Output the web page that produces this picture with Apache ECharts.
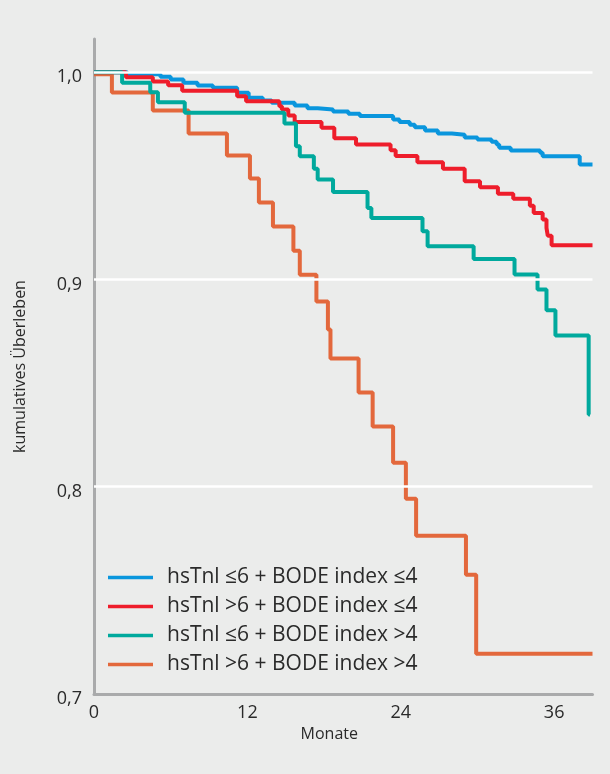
<!DOCTYPE html>
<html>
<head>
<meta charset="utf-8">
<script src="https://cdn.jsdelivr.net/npm/echarts@6/dist/echarts.min.js"></script>
<style>
html,body{margin:0;padding:0;background:#ebeceb;}
#chart{width:610px;height:774px;}
</style>
</head>
<body>
<div id="chart"></div>
<script>
// ---- data (Kaplan-Meier step curves: time in months, cumulative survival) ----
const seriesNames = [
  'hsTnl \u22646 + BODE index \u22644',
  'hsTnl >6 + BODE index \u22644',
  'hsTnl \u22646 + BODE index >4',
  'hsTnl >6 + BODE index >4'
];
const xTicks = [0, 12, 24, 36];
const yTicks = [0.7, 0.8, 0.9, 1.0];

const blueTimes = [0, 2.6, 5.2, 6.0, 7.0, 8.1, 9.3, 11.2, 12.1, 13.2, 13.9, 15.7, 16.7, 17.5, 18.7, 19.9, 20.8, 23.4, 23.9, 24.7, 25.1, 25.9, 26.9, 28.0, 29.0, 30.0, 31.1, 31.5, 31.7, 32.6, 34.9, 35.1, 38.0, 39];
const blueSurv  = [1.0, 0.999, 0.9978, 0.9965, 0.9949, 0.9936, 0.9925, 0.9901, 0.9876, 0.9863, 0.9852, 0.9839, 0.9826, 0.9820, 0.9810, 0.9799, 0.9788, 0.9772, 0.9760, 0.9746, 0.9734, 0.9718, 0.9704, 0.9698, 0.9685, 0.9675, 0.9664, 0.9651, 0.9635, 0.9622, 0.9611, 0.9594, 0.9554, 0.9554];

const redTimes = [0, 2.5, 4.6, 5.8, 6.9, 11.2, 11.9, 14.5, 14.7, 15.2, 15.7, 17.8, 18.8, 20.5, 23.2, 23.6, 25.3, 27.3, 29.0, 30.2, 31.6, 32.8, 34.1, 34.4, 35.1, 35.4, 35.5, 35.8, 39];
const redSurv  = [1.0, 0.9975, 0.9955, 0.9937, 0.9910, 0.9884, 0.9860, 0.9836, 0.9820, 0.9791, 0.9759, 0.9732, 0.9681, 0.9651, 0.9623, 0.9596, 0.9565, 0.9534, 0.9474, 0.9445, 0.9414, 0.9389, 0.9356, 0.9321, 0.9289, 0.9249, 0.9211, 0.9165, 0.9165];

const tealTimes = [0, 2.2, 4.4, 5.0, 7.1, 14.9, 15.8, 16.1, 17.2, 17.5, 18.7, 21.4, 21.7, 25.7, 26.1, 29.7, 32.9, 34.7, 35.4, 36.1, 38.7, 38.8];
const tealSurv  = [1.0, 0.9949, 0.9903, 0.9855, 0.9804, 0.9752, 0.9643, 0.9594, 0.9534, 0.9482, 0.9422, 0.9345, 0.9297, 0.9232, 0.9160, 0.9099, 0.9024, 0.8951, 0.8851, 0.8729, 0.8349, 0.8349];

const orangeTimes = [0, 1.4, 4.6, 7.4, 10.4, 12.2, 12.9, 14.0, 15.6, 16.1, 17.4, 18.3, 18.5, 20.7, 21.8, 23.4, 24.4, 25.2, 29.1, 29.9, 39];
const orangeSurv  = [0.999, 0.9902, 0.9815, 0.9704, 0.9598, 0.9487, 0.9371, 0.9255, 0.9139, 0.9023, 0.8893, 0.8758, 0.8618, 0.8454, 0.8290, 0.8116, 0.7942, 0.7763, 0.7575, 0.7194, 0.7194];

// ---- styles ----
const colors = {blue:'#0a96dd', red:'#ee1d2b', teal:'#00a99d', orange:'#e3683c'};
const FONT = "'Open Sans', sans-serif";
const TEXT = '#2a2a2a';

function pairs(t, v){ return t.map((x,i)=>[x, v[i]]); }
function km(name, t, v, color){
  return {
    name, type:'line', step:'end', data:pairs(t,v), showSymbol:false, symbol:'none',
    lineStyle:{color, width:4}, itemStyle:{color}, z:3, animation:false, silent:true
  };
}

const chart = echarts.init(document.getElementById('chart'), null, {renderer:'canvas'});
chart.setOption({
  backgroundColor:'#ebeceb',
  animation:false,
  textStyle:{fontFamily:FONT},
  grid:{left:94, right:17.5, top:39, bottom:80, containLabel:false, outerBoundsMode:'none'},
  legend:{
    orient:'vertical', left:108, top:567, padding:0,
    data:seriesNames,
    icon:'rect', itemWidth:45, itemHeight:3.5, itemGap:8,
    textStyle:{fontFamily:FONT, fontSize:21, color:TEXT, padding:[0,0,0,9]},
    selectedMode:false
  },
  xAxis:{
    type:'value', min:0, max:39, interval:12,
    name:'Monate', nameLocation:'middle', nameGap:30,
    nameTextStyle:{fontFamily:FONT, fontSize:16, color:TEXT, padding:[0,28,0,0]},
    axisLine:{show:true, onZero:false, lineStyle:{color:'#a9aaab', width:3}},
    axisTick:{show:false},
    splitLine:{show:false},
    axisLabel:{fontFamily:FONT, fontSize:18, color:TEXT, margin:10,
      formatter:v => xTicks.includes(v) ? String(v) : ''}
  },
  yAxis:{
    type:'value', min:0.7, max:1.016, interval:0.1,
    name:'kumulatives \u00dcberleben', nameLocation:'middle', nameGap:66,
    nameTextStyle:{fontFamily:FONT, fontSize:16, color:TEXT},
    axisLine:{show:true, lineStyle:{color:'#a9aaab', width:3}},
    axisTick:{show:false},
    splitLine:{show:false},
    axisLabel:{fontFamily:FONT, fontSize:18, color:TEXT, margin:12,
      verticalAlign:'top', lineHeight:10,
      formatter:v => {
        const hit = yTicks.find(t => Math.abs(t - v) < 1e-6);
        return hit === undefined ? '' : hit.toFixed(1).replace('.', ',');
      }}
  },
  series:[
    {
      name:'grid', type:'line', data:[], z:1, silent:true,
      markLine:{
        silent:true, symbol:'none', animation:false,
        label:{show:false},
        lineStyle:{color:'#ffffff', width:2.5, type:'solid'},
        data: yTicks.filter(t => t > 0.7).map(t => ({yAxis:t}))
      }
    },
    km(seriesNames[0], blueTimes, blueSurv, colors.blue),
    km(seriesNames[3], orangeTimes, orangeSurv, colors.orange),
    km(seriesNames[1], redTimes, redSurv, colors.red),
    km(seriesNames[2], tealTimes, tealSurv, colors.teal)
  ]
});
</script>
</body>
</html>
